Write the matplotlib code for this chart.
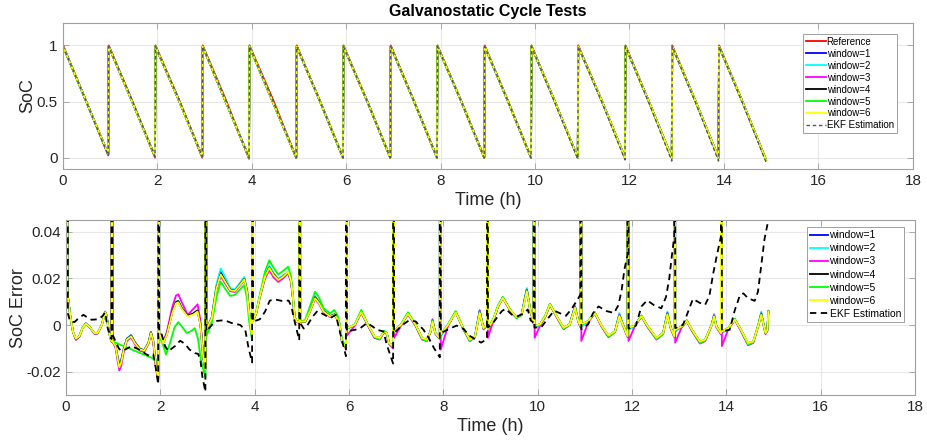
import numpy as np
import matplotlib.pyplot as plt

plt.rcParams['font.family'] = ['Liberation Sans', 'DejaVu Sans']

# ---------------- top panel: SoC ----------------
soc_time = [0.00, 0.01, 0.48, 0.965,
            0.975, 1.47, 1.955,
            1.965, 2.47, 2.955,
            2.965, 3.46, 3.945,
            3.955, 4.46, 4.945,
            4.955, 5.45, 5.935,
            5.945, 6.45, 6.935,
            6.945, 7.44, 7.925,
            7.935, 8.44, 8.925,
            8.935, 9.43, 9.915,
            9.925, 10.42, 10.905,
            10.915, 11.42, 11.905,
            11.915, 12.41, 12.895,
            12.905, 13.40, 13.885,
            13.895, 14.39, 14.89]
soc_ref = [1.00, 1.00, 0.52, 0.02,
           1.00, 0.51, 0.00,
           1.00, 0.51, 0.00,
           1.00, 0.51, -0.01,
           1.00, 0.51, 0.00,
           1.00, 0.50, 0.00,
           1.00, 0.50, 0.00,
           1.00, 0.50, 0.00,
           1.00, 0.50, 0.00,
           1.00, 0.50, 0.00,
           1.00, 0.50, 0.00,
           1.00, 0.50, 0.00,
           1.00, 0.50, 0.00,
           1.00, 0.50, 0.00,
           1.00, 0.50, -0.02]
soc_win = [0.68, 0.99, 0.52, 0.03,
           0.99, 0.50, 0.01,
           0.99, 0.50, 0.01,
           0.99, 0.49, 0.00,
           0.99, 0.485, 0.00,
           0.99, 0.50, 0.00,
           0.99, 0.50, 0.00,
           0.99, 0.50, 0.00,
           0.99, 0.50, 0.00,
           0.99, 0.50, 0.00,
           0.99, 0.50, 0.00,
           0.99, 0.50, 0.00,
           0.99, 0.50, 0.00,
           0.99, 0.50, 0.00,
           0.99, 0.50, -0.02]
soc_ekf = [0.99, 0.99, 0.52, 0.02,
           0.99, 0.51, 0.01,
           0.99, 0.51, 0.01,
           0.99, 0.50, 0.00,
           0.99, 0.495, 0.00,
           0.99, 0.50, 0.00,
           0.99, 0.50, 0.00,
           0.99, 0.50, 0.00,
           0.99, 0.50, 0.00,
           0.99, 0.50, 0.00,
           0.99, 0.49, -0.01,
           0.99, 0.49, -0.02,
           0.99, 0.49, -0.03,
           0.99, 0.49, -0.03,
           0.99, 0.49, -0.04]

# ---------------- bottom panel: SoC error (x 1e-3) ----------------
err_time = [0.00, 0.01, 0.03, 0.09, 0.15, 0.21, 0.28, 0.35, 0.42, 0.51, 0.60, 0.67, 0.76, 0.83, 0.86, 0.91, 0.965,
            0.975, 0.985, 1.05, 1.10, 1.13, 1.17, 1.22, 1.29, 1.38, 1.46, 1.57, 1.66, 1.75, 1.80, 1.85, 1.91, 1.955,
            1.965, 1.975, 2.06, 2.14, 2.25, 2.33, 2.38, 2.45, 2.58, 2.70, 2.79, 2.85, 2.91, 2.955,
            2.965, 2.975, 3.09, 3.19, 3.28, 3.36, 3.48, 3.58, 3.70, 3.78, 3.84, 3.88, 3.945,
            3.955, 3.965, 4.03, 4.11, 4.22, 4.31, 4.40, 4.50, 4.62, 4.71, 4.77, 4.81, 4.85, 4.90, 4.945,
            4.955, 4.965, 5.07, 5.17, 5.28, 5.36, 5.46, 5.60, 5.69, 5.76, 5.80, 5.85, 5.935,
            5.945, 5.955, 6.12, 6.26, 6.40, 6.54, 6.65, 6.74, 6.80, 6.85, 6.935,
            6.945, 6.955, 7.10, 7.25, 7.41, 7.55, 7.65, 7.73, 7.77, 7.83, 7.925,
            7.935, 7.945, 8.10, 8.26, 8.42, 8.56, 8.67, 8.77, 8.85, 8.925,
            8.935, 8.945, 9.06, 9.16, 9.26, 9.41, 9.55, 9.66, 9.72, 9.77, 9.84, 9.915,
            9.925, 9.935, 10.05, 10.16, 10.26, 10.40, 10.55, 10.68, 10.79, 10.86, 10.905,
            10.915, 10.925, 11.07, 11.21, 11.36, 11.50, 11.64, 11.73, 11.82, 11.905,
            11.915, 11.925, 12.05, 12.20, 12.33, 12.52, 12.66, 12.75, 12.82, 12.895,
            12.905, 12.915, 13.05, 13.16, 13.27, 13.44, 13.55, 13.69, 13.74, 13.79, 13.885,
            13.895, 13.905, 14.04, 14.18, 14.29, 14.46, 14.57, 14.68, 14.74, 14.79, 14.83, 14.87, 14.89]

err_w1 = [-5, 950, 14, 4, -3, -6.2, -5, -1.2, 0.8, -1.0, -3.6, -3.5, 0.2, 5.8, 4.2, -3, -7,
          950, -7, -9, -14, -16.5, -15, -10.5, -5.8, -4.3, -7.3, -10.2, -10.7, -7.4, -2.9, -6.8, -18, -22.5,
          950, -3.4, -7.5, -3.7, 5.5, 9.8, 10.3, 7.4, 4, 4.9, 6.2, 0.3, -14, -19,
          950, -2, 3.2, 16.5, 22.8, 20, 15.5, 14.8, 18, 20.1, 14.5, 6.2, -5.5,
          950, 2, 5, 12.4, 21, 25, 22, 19.6, 21.3, 22.5, 19, 12, 3, 1.5, 1,
          950, 1.5, 1.6, 6.2, 12.2, 10, 6.1, 3.9, 4.6, 2.6, 0.2, -7, -9.8,
          950, -1.5, 0.1, 5.7, 0, -5.2, -5.8, -2.8, -3.4, -7.8, -9.2,
          950, -2.9, 0.1, 5.1, 0, -5.8, -6.4, -2.5, 2.0, -3.4, -5.5,
          950, -4.5, 0.1, 5.7, -1.4, -6.5, -4.8, 6.0, -1.3, 0,
          950, -2.2, 2.3, 8.2, 11.9, 6.7, 3.3, 4.6, 10.8, 15.3, 6.8, 1,
          950, -1.0, 0.2, 3.8, 9.0, 3.7, -1.4, 0.4, 8.0, 1.8, -0.4,
          950, -0.5, 1.6, 5.4, -0.6, -4.8, -2.6, 4.6, -0.4, -4.7,
          950, -1.8, -0.5, 4.0, -0.6, -5.8, -3.3, 5.3, -1.1, -4.7,
          950, -2.6, -0.7, 2.0, -2.2, -7.4, -6.4, 0.3, 4.4, -0.6, -3.4,
          950, -3.3, -1.4, 2.5, -1.5, -8.1, -7.2, 0.3, 5.2, 0.1, -3.4, -2, 5.8]

err_w2 = [-5, 950, 14, 4, -3, -6.0, -4.9, -1.2, 0.7, -1.0, -3.5, -3.4, 0.2, 5.7, 4.1, -3, -7,
          950, -7, -9, -14.5, -17, -15.5, -10.8, -5.9, -4.4, -7.4, -10.3, -10.8, -7.5, -3.0, -6.9, -18.2, -22.8,
          950, -3.4, -7.5, -3.6, 5.6, 10, 10.5, 7.5, 4.1, 5, 6.3, 0.3, -14, -19,
          950, -2, 3.5, 17.5, 24.3, 21, 16, 15.2, 18.5, 20.6, 15, 6.5, -5.5,
          950, 2, 5, 12.5, 21.2, 25.3, 22.2, 19.8, 21.5, 22.8, 19.2, 12, 3, 1.5, 1,
          950, 1.5, 1.6, 6.1, 12.0, 9.9, 6.0, 3.8, 4.5, 2.5, 0.1, -7.2, -10,
          950, -1.5, 0.0, 5.6, -0.1, -5.4, -6.0, -2.6, -3.3, -7.8, -9.3,
          950, -3.0, 0.0, 5.0, -0.2, -6.0, -6.6, -2.3, 2.3, -3.3, -5.5,
          950, -4.5, 0.0, 5.6, -1.5, -6.7, -4.7, 6.5, -1.2, 0,
          950, -2.4, 2.2, 8.1, 11.8, 6.6, 3.2, 4.7, 11.2, 15.9, 6.9, 1,
          950, -1.2, 0.1, 3.7, 8.9, 3.6, -1.6, 0.5, 8.3, 1.9, -0.4,
          950, -0.8, 1.5, 5.3, -0.7, -5.0, -2.5, 5.2, -0.3, -4.6,
          950, -2.0, -0.6, 3.9, -0.7, -6.0, -3.2, 5.8, -1.0, -4.6,
          950, -2.8, -0.8, 1.9, -2.3, -7.6, -6.5, 0.4, 4.8, -0.5, -3.3,
          950, -3.5, -1.5, 2.4, -1.6, -8.3, -7.3, 0.4, 5.8, 0.2, -3.3, -2, 6.2]

err_w3 = [-5, 950, 14, 4, -3, -6.3, -5.1, -1.3, 0.6, -1.1, -3.6, -3.6, 0.1, 5.6, 4, -3.2, -7.2,
          950, -7, -9.5, -16, -19.4, -17.5, -12, -6.8, -5.2, -8.2, -11, -11.5, -8, -3.6, -7.5, -19, -23.5,
          950, -3.4, -7.2, -2.8, 7.5, 12.6, 13.2, 10, 4.4, 7, 8.9, 2, -13, -19,
          950, -2, 3, 15.2, 21, 18.3, 14.5, 14.2, 17.2, 19.2, 13.8, 5.8, -5.8,
          950, 2, 4.8, 11.8, 20, 23.5, 20.5, 18.5, 20.3, 22.2, 18.5, 11.5, 2.8, 1.3, 0.8,
          950, 1.3, 1.3, 5.6, 11.1, 9.2, 5.5, 3.4, 4.2, 2.3, -0.2, -7.3, -10.2,
          950, -4.5, -0.3, 5.3, -0.2, -5.5, -6.2, -3.2, -3.8, -8.2, -10,
          950, -5.5, -0.3, 4.6, -0.3, -6.2, -6.9, -3.0, 2.5, -3.8, -6,
          950, -10.5, -0.3, 5.6, -1.7, -6.9, -5.2, 6.3, -1.8, -0.5,
          950, -5.4, 1.8, 7.8, 11.5, 6.4, 3.0, 4.3, 10.5, 15.2, 6.3, 0.5,
          950, -5.4, -0.3, 3.5, 8.7, 3.4, -1.8, 0.1, 8.0, 1.4, -1.0,
          950, -6.8, 1.2, 5.1, -0.9, -5.2, -3.0, 4.5, -0.9, -5.2,
          950, -6.8, -0.9, 3.7, -0.9, -6.2, -3.8, 5.2, -1.6, -5.2,
          950, -7.5, -1.1, 1.7, -2.5, -7.9, -6.9, -0.1, 4.3, -1.1, -3.9,
          950, -9.0, -1.8, 2.2, -1.8, -8.6, -7.7, -0.1, 5.1, -0.4, -3.9, -2.5, 5.8]

err_w4 = [-5, 950, 14, 4, -3, -5.9, -4.9, -1.3, 0.6, -1.0, -3.5, -3.5, 0.1, 5.5, 4, -3, -7,
          950, -7, -9, -15, -17.2, -15.5, -10.8, -6, -4.6, -7.5, -10.4, -10.8, -7.6, -3.2, -7, -18.2, -23,
          950, -3.4, -7.6, -3.8, 5.5, 9.8, 10.3, 7.3, 4, 5.0, 6.3, 0.3, -14, -19,
          950, -2, 3.1, 16, 22, 19.3, 15.2, 14.7, 17.7, 19.8, 14.2, 6.1, -5.5,
          950, 2, 5, 12.3, 20.8, 24.7, 21.7, 19.4, 21.1, 22.6, 19, 12, 3, 1.5, 1,
          950, 1.5, 1.5, 5.9, 11.8, 9.7, 5.9, 3.8, 4.5, 2.5, 0.1, -7, -9.8,
          950, -1.3, 0.1, 5.5, 0.1, -4.9, -5.6, -3, -3.4, -7.7, -9,
          950, -2.7, 0.1, 4.9, 0.1, -5.6, -6.3, -2.7, 1.6, -3.4, -5.5,
          950, -4, 0.1, 5.5, -1.3, -6.3, -4.8, 5.3, -1.3, 0,
          950, -1.8, 2.4, 8, 11.7, 6.7, 3.4, 4.5, 10.3, 14.8, 6.7, 1,
          950, -0.4, 0.3, 3.8, 8.8, 3.8, -1.2, 0.3, 7.6, 1.7, -0.4,
          950, 0.3, 1.7, 5.2, -0.4, -4.5, -2.6, 4.0, -0.4, -4.7,
          950, -1.1, -0.4, 3.8, -0.4, -5.5, -3.3, 4.7, -1.1, -4.7,
          950, -2, -0.6, 1.8, -2, -7.1, -6.3, 0.1, 3.9, -0.6, -3.4,
          950, -2.7, -1.3, 2.3, -1.3, -7.8, -7.1, 0.1, 4.6, 0.1, -3.4, -2, 5.8]

err_w6 = [-5, 950, 14, 4, -3, -5.8, -4.8, -1.3, 0.6, -1.0, -3.4, -3.4, 0.1, 5.5, 4, -3, -7,
          950, -7, -9, -15, -18, -16, -11, -6.2, -4.8, -7.7, -10.5, -10.9, -7.7, -3.4, -7, -18.3, -23,
          950, -3.4, -7.7, -4, 5, 9.3, 9.8, 7, 3.7, 4.5, 5.8, 0, -14, -19,
          950, -2, 3, 15.7, 21.7, 19, 15, 14.6, 17.5, 19.6, 14, 6, -5.5,
          950, 2, 5, 12.2, 20.7, 24.5, 21.5, 19.3, 21, 22.8, 19, 12, 3, 1.5, 1,
          950, 1.5, 1.5, 5.8, 11.5, 9.5, 5.8, 3.7, 4.4, 2.5, 0.1, -7, -9.8,
          950, -1.3, 0.1, 5.5, 0.1, -4.8, -5.5, -3, -3.4, -7.7, -9,
          950, -2.7, 0.1, 4.8, 0.1, -5.5, -6.2, -2.7, 1.5, -3.4, -5.5,
          950, -4, 0.1, 5.4, -1.3, -6.2, -4.8, 5.1, -1.3, 0,
          950, -1.8, 2.4, 8, 11.6, 6.7, 3.5, 4.5, 10, 14.5, 6.7, 1,
          950, -0.4, 0.3, 3.8, 8.8, 3.8, -1.1, 0.3, 7.4, 1.7, -0.4,
          950, 0.3, 1.7, 5.2, -0.4, -4.4, -2.6, 3.8, -0.4, -4.7,
          950, -1.1, -0.4, 3.8, -0.4, -5.4, -3.3, 4.5, -1.1, -4.7,
          950, -2, -0.6, 1.8, -2, -7, -6.2, 0.1, 3.7, -0.6, -3.4,
          950, -2.7, -1.3, 2.3, -1.3, -7.7, -7, 0.1, 4.4, 0.1, -3.4, -2, 5.8]

# window=5 has a gap during the second cycle, so it keeps its own time base
err_time_w5 = [0.00, 0.01, 0.03, 0.09, 0.15, 0.21, 0.28, 0.35, 0.42, 0.51, 0.60, 0.67, 0.76, 0.83, 0.86, 0.91, 0.95,
               1.955,
               1.965, 1.975, 2.05, 2.12, 2.20, 2.30, 2.38, 2.47, 2.56, 2.66, 2.73, 2.80, 2.86, 2.955,
               2.965, 2.975, 3.09, 3.19, 3.28, 3.36, 3.48, 3.58, 3.70, 3.78, 3.84, 3.88, 3.945,
               3.955, 3.965, 4.03, 4.11, 4.22, 4.31, 4.40, 4.50, 4.62, 4.71, 4.77, 4.81, 4.85, 4.90, 4.945,
               4.955, 4.965, 5.07, 5.17, 5.28, 5.36, 5.46, 5.60, 5.69, 5.76, 5.80, 5.85, 5.935,
               5.945, 5.955, 6.12, 6.26, 6.40, 6.54, 6.65, 6.74, 6.80, 6.85, 6.935,
               6.945, 6.955, 7.10, 7.25, 7.41, 7.55, 7.65, 7.73, 7.77, 7.83, 7.925,
               7.935, 7.945, 8.10, 8.26, 8.42, 8.56, 8.67, 8.77, 8.85, 8.925,
               8.935, 8.945, 9.06, 9.16, 9.26, 9.41, 9.55, 9.66, 9.72, 9.77, 9.84, 9.915,
               9.925, 9.935, 10.05, 10.16, 10.26, 10.40, 10.55, 10.68, 10.79, 10.86, 10.905,
               10.915, 10.925, 11.07, 11.21, 11.36, 11.50, 11.64, 11.73, 11.82, 11.905,
               11.915, 11.925, 12.05, 12.20, 12.33, 12.52, 12.66, 12.75, 12.82, 12.895,
               12.905, 12.915, 13.05, 13.16, 13.27, 13.44, 13.55, 13.69, 13.74, 13.79, 13.885,
               13.895, 13.905, 14.04, 14.18, 14.29, 14.46, 14.57, 14.68, 14.74, 14.79, 14.83, 14.87, 14.89]
err_w5 = [-5, 950, 14, 4, -3, -5.8, -4.8, -1.3, 0.6, -1.0, -3.4, -3.4, 0.1, 5.5, 4, -3, -6.7,
          -15.2,
          950, -4.5, -8, -12.6, -8, -1, 1.3, -1, -3.4, -2.5, -1.3, -6, -15, -22.5,
          950, -4.8, 1, 12, 18.6, 16, 12.5, 12.9, 15.5, 17.2, 11, 2, -6.5,
          950, 2, 5.5, 13, 23, 27.8, 24.5, 21.7, 23.5, 25, 21, 13, 3, 1.5, 1,
          950, 1.5, 2.2, 8, 14.3, 12, 7.2, 5, 6.5, 4, 1, -6, -9.5,
          950, -1.5, 0.3, 6.5, 0.3, -5.2, -6.0, -2.5, -3.2, -8, -9.5,
          950, -2.9, 0.3, 5.5, 0.2, -6.0, -6.8, -2.5, 1.8, -3.6, -5.8,
          950, -4, 0.3, 6.0, -1.2, -6.8, -5.0, 5.5, -1.2, 0,
          950, -1.8, 2.6, 8.5, 12.0, 6.9, 3.0, 4.3, 10.2, 14.6, 6.8, 1,
          950, -0.4, 0.4, 4.1, 9.2, 3.8, -1.6, 0.2, 7.6, 1.8, -0.4,
          950, 0.3, 1.8, 5.6, -0.5, -5.0, -2.9, 4.0, -0.5, -4.8,
          950, -1.1, -0.3, 4.2, -0.5, -6.0, -3.6, 4.6, -1.2, -4.8,
          950, -2, -0.5, 2.1, -2.1, -7.6, -6.7, 0.0, 3.8, -0.7, -3.5,
          950, -2.7, -1.2, 2.6, -1.4, -8.3, -7.5, 0.0, 4.5, 0.1, -3.4, -2, 5.8]

ekf_time = [0.00, 0.04, 0.08, 0.12, 0.18, 0.27, 0.37, 0.46, 0.54, 0.69, 0.78, 0.83, 0.88, 0.965,
            0.975, 0.985, 1.05, 1.12, 1.17, 1.25, 1.39, 1.50, 1.60, 1.70, 1.78, 1.85, 1.90, 1.955,
            1.965, 1.975, 2.03, 2.10, 2.17, 2.31, 2.42, 2.52, 2.62, 2.73, 2.80, 2.85, 2.89, 2.955,
            2.965, 2.975, 3.09, 3.20, 3.36, 3.51, 3.69, 3.80, 3.87, 3.945,
            3.955, 3.965, 4.11, 4.22, 4.32, 4.43, 4.57, 4.72, 4.78, 4.83, 4.945,
            4.955, 4.965, 5.04, 5.12, 5.23, 5.33, 5.48, 5.60, 5.72, 5.82, 5.935,
            5.945, 5.955, 6.13, 6.24, 6.38, 6.50, 6.59, 6.73, 6.80, 6.935,
            6.945, 6.955, 7.13, 7.27, 7.41, 7.58, 7.69, 7.80, 7.925,
            7.935, 7.945, 8.14, 8.28, 8.42, 8.55, 8.67, 8.80, 8.925,
            8.935, 8.945, 9.03, 9.13, 9.24, 9.32, 9.45, 9.58, 9.70, 9.79, 9.85, 9.915,
            9.925, 9.935, 10.08, 10.20, 10.35, 10.48, 10.60, 10.72, 10.80, 10.905,
            10.915, 10.925, 11.07, 11.17, 11.29, 11.46, 11.62, 11.71, 11.78, 11.84, 11.905,
            11.915, 11.925, 12.08, 12.20, 12.32, 12.47, 12.62, 12.72, 12.79, 12.84, 12.895,
            12.905, 12.915, 13.08, 13.19, 13.29, 13.44, 13.55, 13.64, 13.72, 13.80, 13.885,
            13.895, 13.905, 14.07, 14.18, 14.29, 14.36, 14.46, 14.60, 14.67, 14.74, 14.81, 14.88]
ekf_err = [950, 5, 2, 1.5, 1.3, 3, 4.4, 3.2, 2.3, 2.5, 4, 5.5, -1, -6,
           950, -4, -7, -10, -11, -10.5, -9, -10, -11, -12.5, -13.3, -12.6, -18, -25.4,
           950, -3, -4, -9, -11.2, -9, -6.7, -8, -10.5, -12, -12.3, -15, -22, -28.5,
           950, -2.7, 0, 1.8, 2.1, 0.9, 0.1, -2, -9.8, -16,
           950, 1.5, 2.5, 5.8, 10.5, 11, 10.4, 10.5, 8, 3, -6.5,
           950, 0.9, -1.5, 0, 3.7, 6, 4.4, 3, 4.4, -4, -13.3,
           950, -2.7, -2, -1.3, 0.9, -0.6, -2, -2.7, -8.4, -16.5,
           950, -3.4, 0, 2, 1.6, -2, -5.5, -9.8, -13.8,
           950, -3.4, -1.5, -0.2, -1.5, -4.5, -6, -7.5, -6,
           950, -1, 0.3, 3, 6, 7, 4.5, 3.8, 5, 6.7, 2, 1,
           950, -1.1, -0.8, 2.4, 6.2, 5, 4, 7, 9.5, 13,
           950, -1.8, 0.3, 5, 8, 6, 5.2, 8.5, 15, 24, 30,
           950, -1.5, -0.3, 8, 10.6, 8.5, 7.2, 12, 20, 29, 38,
           950, -1.3, 0.1, 5.8, 11.2, 9.5, 8.7, 12.5, 22, 30, 38,
           950, -2.7, -2, 6.5, 12.9, 13.6, 11.5, 10.4, 14.3, 25.7, 37, 44]

win_labels = ['window=1', 'window=2', 'window=3', 'window=4', 'window=5', 'window=6']
win_colors = ['#0000ff', '#00ffff', '#ff00ff', '#000000', '#00ff00', '#ffff00']

x_ticks = [0, 2, 4, 6, 8, 10, 12, 14, 16, 18]
soc_ticks = [0, 0.5, 1]
soc_tick_labels = ['0', '0.5', '1']
err_ticks = [-0.02, 0, 0.02, 0.04]
err_tick_labels = ['-0.02', '0', '0.02', '0.04']

frame_col = '#a0a0a0'
text_col = '#262626'


def style_axes(ax):
    for s in ax.spines.values():
        s.set_color(frame_col)
        s.set_linewidth(0.8)
    ax.tick_params(direction='in', length=4, width=0.6, color=frame_col,
                   labelcolor=text_col, labelsize=11, top=True, right=True)
    ax.grid(True, color='#e8e8e8', linewidth=0.8)
    ax.set_axisbelow(True)
    ax.set_xlim(0, 18)
    ax.set_xticks(x_ticks)
    ax.set_xticklabels([str(v) for v in x_ticks])


fig = plt.figure(figsize=(9.27, 4.41), dpi=100)

# ---- top ----
ax1 = fig.add_axes([0.0676, 0.617, 0.9172, 0.331])
style_axes(ax1)
ax1.plot(soc_time, soc_ref, color='#ff0000', lw=1.3, label='Reference')
for lab, col in zip(win_labels, win_colors):
    ax1.plot(soc_time, soc_win, color=col, lw=1.3, label=lab)
ax1.plot(soc_time, soc_ekf, color='#555555', lw=1.0, dashes=(2.5, 2), label='EKF Estimation')
ax1.set_ylim(-0.1, 1.2)
ax1.set_yticks(soc_ticks)
ax1.set_yticklabels(soc_tick_labels)
ax1.set_xlabel('Time (h)', fontsize=13, color=text_col, labelpad=3)
ax1.set_ylabel('SoC', fontsize=13, color=text_col, labelpad=0)
ax1.set_title('Galvanostatic Cycle Tests', fontsize=11.5, fontweight='bold', pad=5)
leg1 = ax1.legend(loc='upper right', bbox_to_anchor=(0.981, 0.925), fontsize=7,
                  fancybox=False, framealpha=1, edgecolor=frame_col, borderpad=0.3,
                  labelspacing=0.2, handlelength=2.0, handletextpad=0.1, borderaxespad=0)
leg1.get_frame().set_linewidth(0.7)

# ---- bottom ----
ax2 = fig.add_axes([0.0712, 0.104, 0.9159, 0.397])
style_axes(ax2)
w_series = [(err_time, err_w1), (err_time, err_w2), (err_time, err_w3),
            (err_time, err_w4), (err_time_w5, err_w5), (err_time, err_w6)]
for (tt, vv), lab, col in zip(w_series, win_labels, win_colors):
    ax2.plot(tt, np.array(vv) / 1000, color=col, lw=1.3, label=lab)
ax2.plot(ekf_time, np.array(ekf_err) / 1000, color='black', lw=1.3, dashes=(3.5, 2.5),
         label='EKF Estimation')
ax2.set_ylim(-0.03, 0.045)
ax2.set_yticks(err_ticks)
ax2.set_yticklabels(err_tick_labels)
ax2.set_xlabel('Time (h)', fontsize=13, color=text_col, labelpad=3)
ax2.set_ylabel('SoC Error', fontsize=13, color=text_col, labelpad=0)
leg2 = ax2.legend(loc='upper right', bbox_to_anchor=(0.987, 0.96), fontsize=7.5,
                  fancybox=False, framealpha=1, edgecolor=frame_col, borderpad=0.3,
                  labelspacing=0.3, handlelength=1.8, handletextpad=0.1, borderaxespad=0)
leg2.get_frame().set_linewidth(0.7)

fig.savefig('out.png', dpi=100)
